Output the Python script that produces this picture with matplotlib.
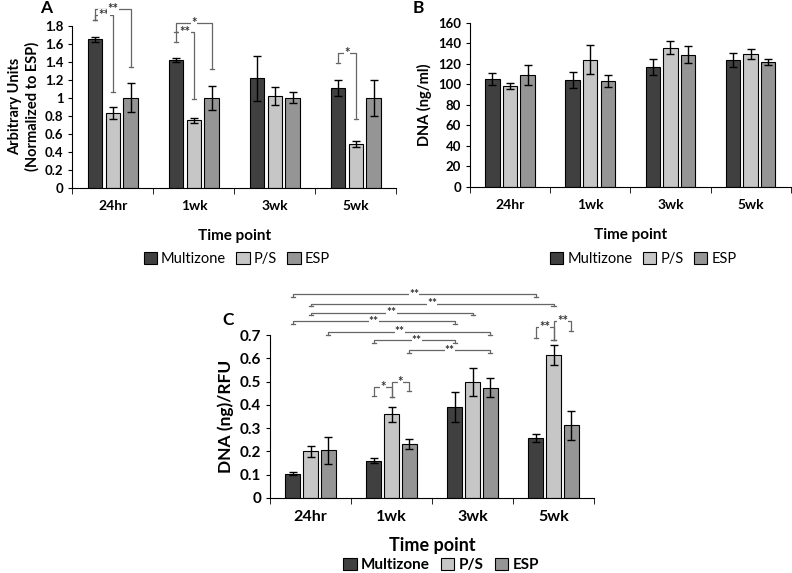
import numpy as np
import matplotlib.pyplot as plt

plt.rcParams['font.family'] = ['Lato', 'DejaVu Sans']

timepoints = ['24hr', '1wk', '3wk', '5wk']
groups = ['Multizone', 'P/S', 'ESP']
colors = ['#404040', '#c6c6c6', '#959595']

# panel A - normalized units
a_vals = [[1.65, 1.42, 1.22, 1.11],
          [0.83, 0.75, 1.02, 0.49],
          [1.00, 1.00, 1.00, 1.00]]
a_err = [[0.03, 0.02, 0.25, 0.09],
         [0.07, 0.03, 0.10, 0.03],
         [0.16, 0.13, 0.06, 0.20]]

# panel B - DNA ng/ml
b_vals = [[105, 104, 117, 124],
          [98, 124, 136, 130],
          [109, 103, 129, 122]]
b_err = [[6, 8, 8, 7],
         [3, 14, 6, 5],
         [10, 6, 8, 3]]

# panel C - DNA (ng)/RFU
c_vals = [[0.105, 0.160, 0.392, 0.258],
          [0.200, 0.360, 0.500, 0.615],
          [0.205, 0.232, 0.475, 0.313]]
c_err = [[0.007, 0.010, 0.065, 0.017],
         [0.022, 0.033, 0.060, 0.043],
         [0.057, 0.022, 0.042, 0.062]]

# significance brackets: (tp, grp_left, grp_right, top, left_end, right_end, label)
a_sig = [(0, 0, 1, 1.92, 1.86, 1.07, '**'),
         (0, 0, 2, 1.99, 1.86, 1.34, '**'),
         (1, 0, 1, 1.73, 1.62, 0.99, '**'),
         (1, 0, 2, 1.83, 1.73, 1.32, '*'),
         (3, 0, 1, 1.50, 1.39, 0.77, '*')]
c_local = [(1, 0, 1, 0.479, 0.440, 0.433, '*'),
           (1, 1, 2, 0.500, 0.433, 0.460, '*'),
           (3, 0, 1, 0.736, 0.690, 0.680, '**'),
           (3, 1, 2, 0.761, 0.680, 0.720, '**')]
# long brackets in C: (tp_left, grp, tp_right, grp, level, text shift)
c_long = [(0, 0, 3, 0, 0.876, 0.0),
          (0, 1, 3, 1, 0.836, 0.0),
          (0, 1, 2, 1, 0.797, 0.0),
          (0, 0, 2, 0, 0.760, 0.0),
          (0, 2, 2, 2, 0.714, -0.12),
          (1, 0, 2, 0, 0.679, 0.03),
          (1, 2, 2, 2, 0.636, 0.0)]

offs = [-0.22, 0.0, 0.22]
width = 0.18
x = np.arange(len(timepoints))
sig_col = '#666666'


def bar_x(tp, g):
    return x[tp] + offs[g]


def draw_bars(ax, vals, err, ymax, yticks, ylabel, fs_tick, fs_lab, lpad):
    for g in range(3):
        ax.bar(x + offs[g], vals[g], width, color=colors[g], edgecolor='black',
               linewidth=0.8, label=groups[g], yerr=err[g], capsize=3,
               error_kw=dict(elinewidth=1, capthick=1, ecolor='black'))
    ax.set_xlim(-0.5, 3.5)
    ax.set_ylim(0, ymax)
    ax.set_yticks(yticks)
    ax.set_xticks(x)
    ax.set_xticklabels(timepoints, fontweight='bold', fontsize=fs_tick + 0.5)
    ax.set_xticks(np.arange(-0.5, 4, 1), minor=True)
    ax.tick_params(axis='x', which='major', length=0, pad=9)
    ax.tick_params(axis='x', which='minor', length=4, direction='out')
    ax.tick_params(axis='y', length=3, labelsize=fs_tick)
    for t in ax.get_yticklabels():
        t.set_fontweight('bold')
    ax.spines['top'].set_visible(False)
    ax.spines['right'].set_visible(False)
    ax.set_ylabel(ylabel, fontweight='bold', fontsize=fs_lab)
    ax.set_xlabel('Time point', fontweight='bold', fontsize=fs_lab + 0.5, labelpad=lpad)


def bracket(ax, x1, x2, top, y1, y2, label, fs=9.5, shift=0.0):
    cap = 0.025
    ax.plot([x1, x1, x2, x2], [y1, top, top, y2], color=sig_col, lw=0.9, clip_on=False)
    ax.plot([x1 - cap, x1 + cap], [y1, y1], color=sig_col, lw=0.9, clip_on=False)
    ax.plot([x2 - cap, x2 + cap], [y2, y2], color=sig_col, lw=0.9, clip_on=False)
    ax.text((x1 + x2) / 2 + shift, top, label, ha='center', va='center', fontsize=fs,
            fontweight='bold', color='#333333',
            bbox=dict(facecolor='white', edgecolor='none', pad=0.1))


fig = plt.figure(figsize=(7.92, 5.73), dpi=100)

axA = fig.add_axes([0.0915, 0.672, 0.409, 0.283])
draw_bars(axA, a_vals, a_err, 1.8, np.arange(0, 1.81, 0.2),
          'Arbitrary Units\n(Normalized to ESP)', 9.5, 10.5, 12)
axA.set_yticklabels(['0', '0.2', '0.4', '0.6', '0.8', '1', '1.2', '1.4', '1.6', '1.8'])
for t in axA.get_yticklabels():
    t.set_fontweight('bold')
for tp, g1, g2, top, y1, y2, lab in a_sig:
    bracket(axA, bar_x(tp, g1), bar_x(tp, g2), top, y1, y2, lab)

axB = fig.add_axes([0.5934, 0.674, 0.405, 0.286])
draw_bars(axB, b_vals, b_err, 160, np.arange(0, 161, 20), 'DNA (ng/ml)', 9.5, 10.5, 12)

axC = fig.add_axes([0.341, 0.131, 0.409, 0.284])
draw_bars(axC, c_vals, c_err, 0.7, np.arange(0, 0.71, 0.1), 'DNA (ng)/RFU', 11, 12.5, 9)
axC.set_yticklabels(['0', '0.1', '0.2', '0.3', '0.4', '0.5', '0.6', '0.7'])
for t in axC.get_yticklabels():
    t.set_fontweight('bold')
for tp, g1, g2, top, y1, y2, lab in c_local:
    bracket(axC, bar_x(tp, g1), bar_x(tp, g2), top, y1, y2, lab)
for t1, g1, t2, g2, lev, sh in c_long:
    bracket(axC, bar_x(t1, g1), bar_x(t2, g2), lev, lev - 0.012, lev - 0.012, '**',
            fs=8.5, shift=sh)

# legends
hA, lA = axA.get_legend_handles_labels()
leg_kw = dict(ncol=3, frameon=False, handlelength=0.9, handleheight=0.9,
              handletextpad=0.3, columnspacing=0.7, loc='center')
fig.legend(hA, lA, bbox_to_anchor=(0.299, 0.548), fontsize=10.5, **leg_kw)
fig.legend(hA, lA, bbox_to_anchor=(0.812, 0.548), fontsize=10.5, **leg_kw)
fig.legend(hA, lA, bbox_to_anchor=(0.557, 0.014),
           prop=dict(size=11, weight='bold'), **leg_kw)

fig.text(40 / 792, 1 - 8 / 573, 'A', fontsize=12.5, fontweight='bold', ha='left', va='center')
fig.text(413 / 792, 1 - 8 / 573, 'B', fontsize=12.5, fontweight='bold', ha='left', va='center')
fig.text(222 / 792, 1 - 320 / 573, 'C', fontsize=12.5, fontweight='bold', ha='left', va='center')

fig.savefig('out.png', dpi=100)
